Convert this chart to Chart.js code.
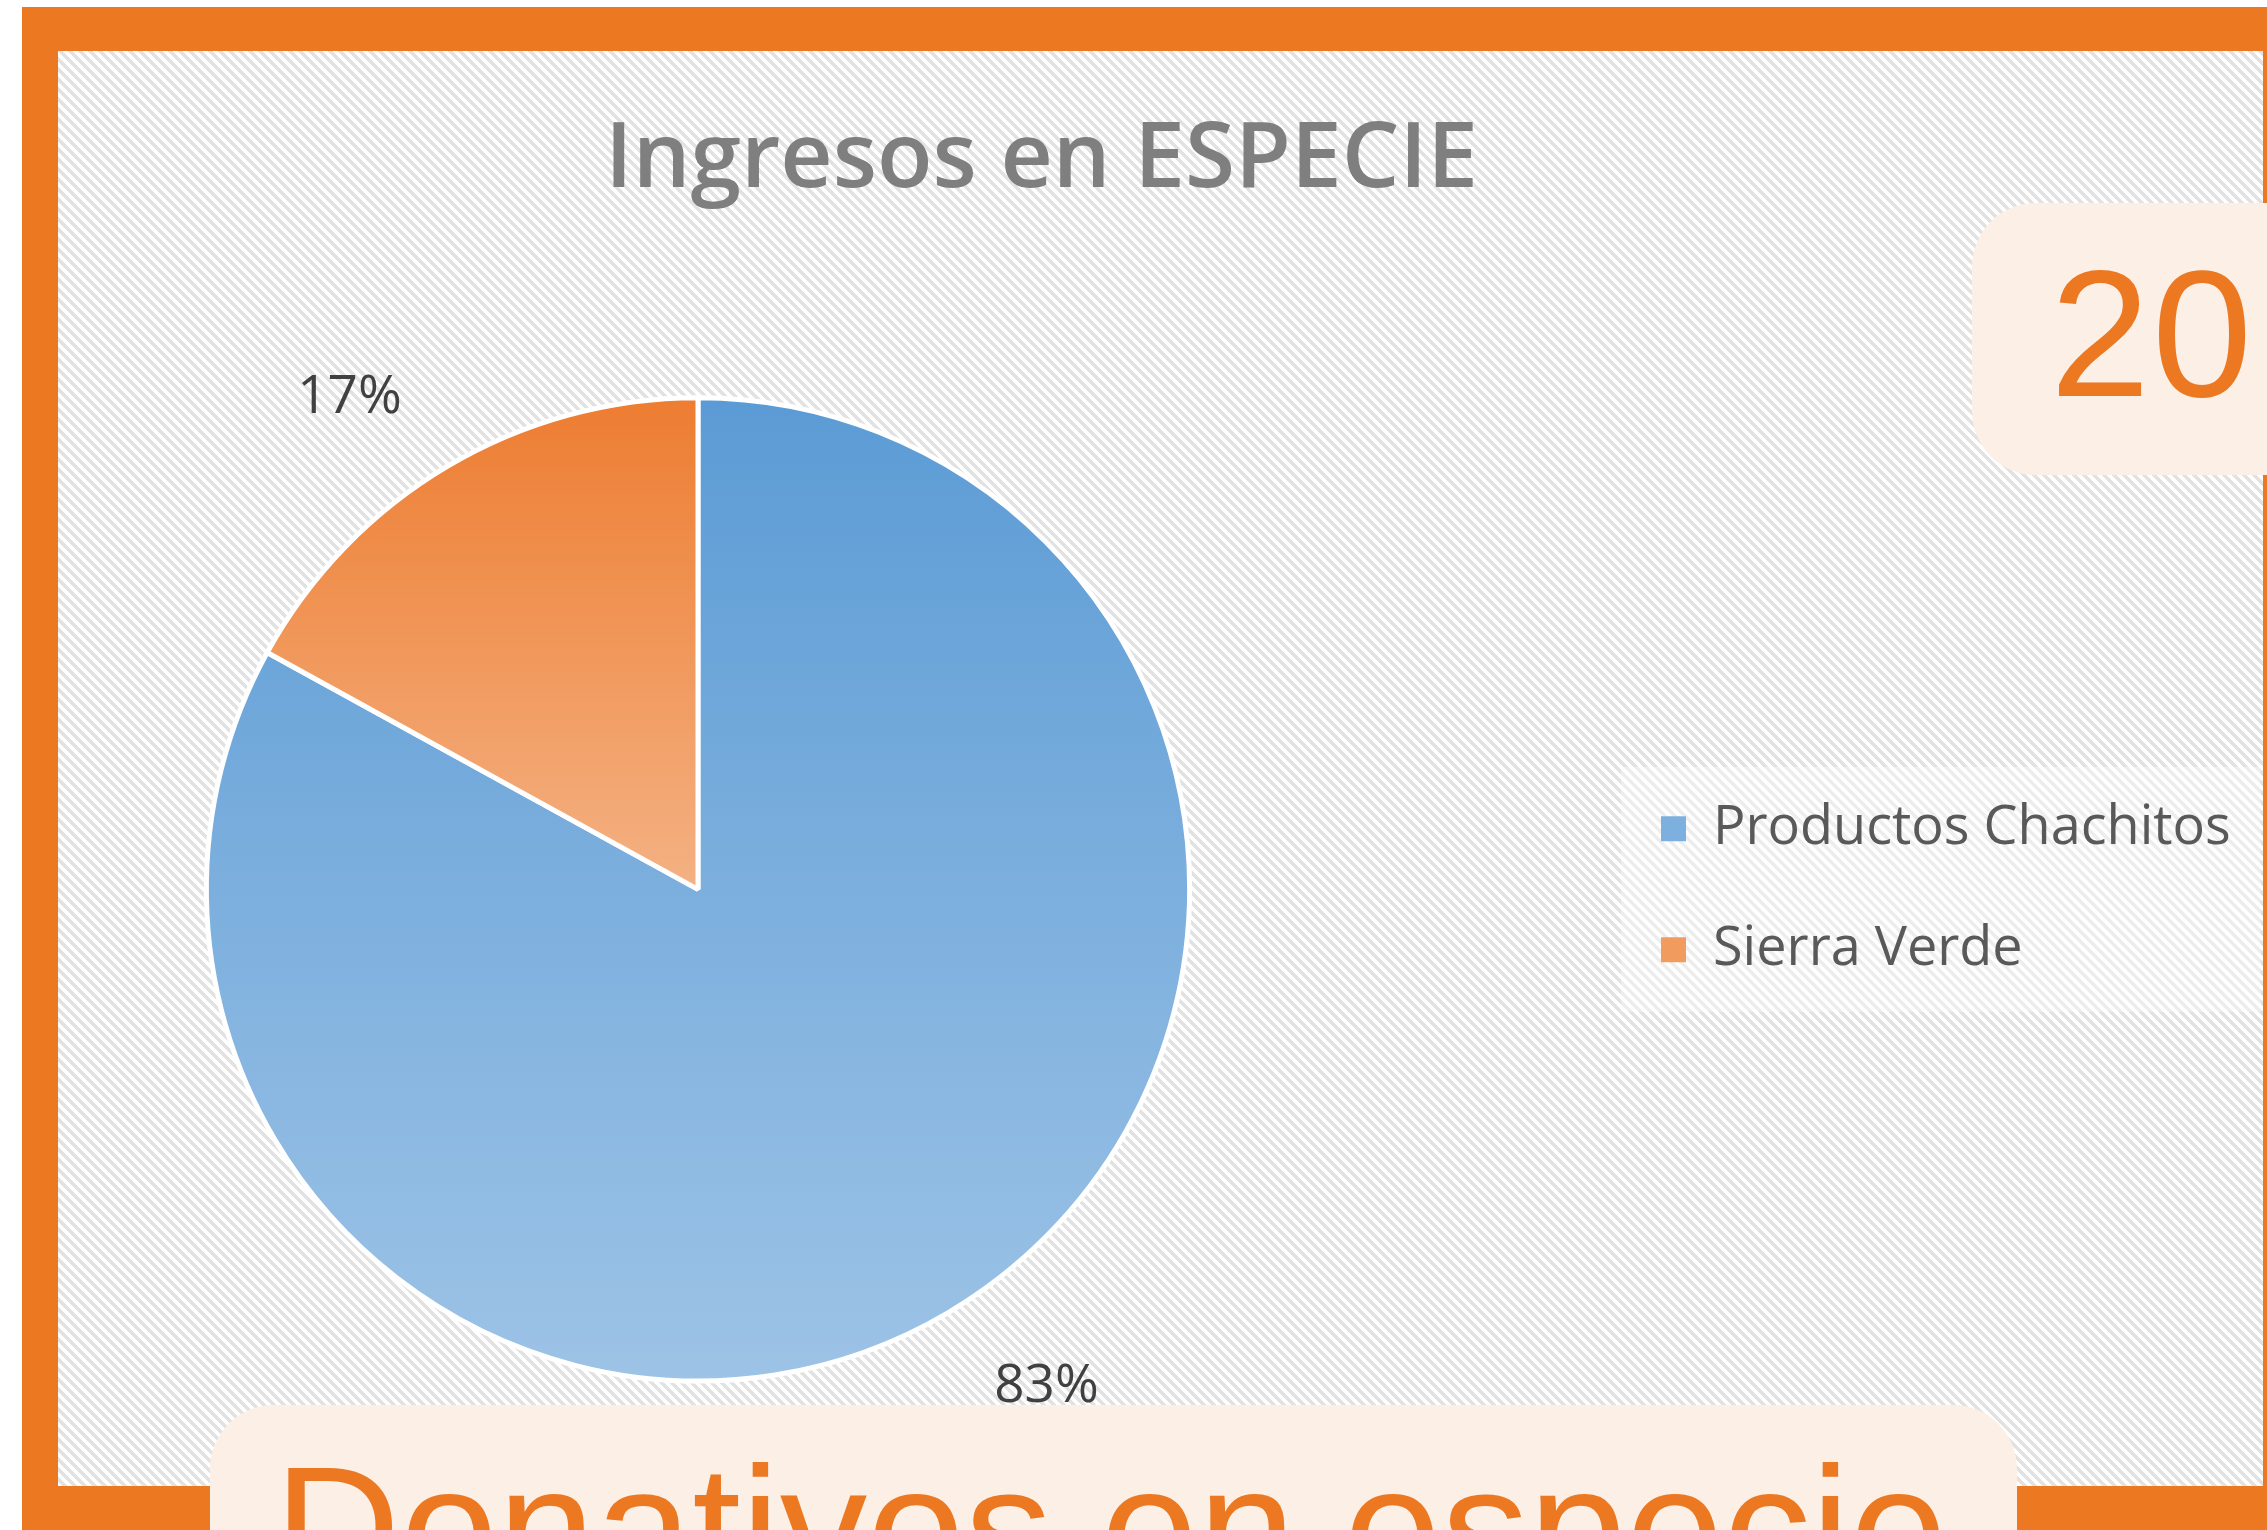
<!DOCTYPE html>
<html lang="es">
<head>
<meta charset="utf-8">
<title>Ingresos en ESPECIE</title>
<script src="https://cdn.jsdelivr.net/npm/chart.js@4.4.1/dist/chart.umd.min.js"></script>
<style>
  html, body { margin:0; padding:0; }
  body { width:2267px; height:1530px; position:relative; overflow:hidden; background:#fff; font-family:"Liberation Sans", Arial, sans-serif; }
  /* marco naranja y fondo rayado */
  #marco { position:absolute; left:22px; top:7px; right:0; bottom:0; background:#ed7822; }
  #fondo { position:absolute; left:58px; top:51px; width:2205px; height:1435px; background-color:#fff; }
  #grafica { position:absolute; left:-198px; top:0; }
  .caja { position:absolute; background:#fbefe6; border-radius:64px; color:#ed7822; white-space:nowrap; overflow:hidden; }
  .caja span { position:absolute; line-height:1; }
  #anio { left:1972px; top:203px; width:420px; height:272px; }
  #anio span { left:78px; top:41px; font-size:180px; letter-spacing:2px; }
  #titulo { left:210px; top:1405px; width:1807px; height:300px; }
  #titulo span { left:64px; top:35px; font-size:175px; }
</style>
</head>
<body>
<div id="marco"></div>
<div id="fondo"></div>
<canvas id="grafica" width="2479" height="1530"></canvas>
<div class="caja" id="anio"><span>2018</span></div>
<div class="caja" id="titulo"><span>Donativos en especie</span></div>

<script>
// Datos del gráfico
const categorias = ['Productos Chachitos', 'Sierra Verde'];
const valores = [83, 17];

// Estilos
const colores = [['#5b9bd5', '#9dc3e6'], ['#ed7d31', '#f4b183']];
const coloresLeyenda = ['#7eb0df', '#f19b5e'];
const BORDE = 5;
const ANCHO_LEYENDA = 687;

// rayado diagonal del fondo (pixeles nítidos)
function rayado(){
  const P = 10, c = document.createElement('canvas');
  c.width = P; c.height = P;
  const g = c.getContext('2d');
  g.fillStyle = '#ffffff'; g.fillRect(0, 0, P, P);
  g.fillStyle = '#e2e2e2';
  for(let y=0; y<P; y++) for(let x=0; x<P; x++){
    if((((x - y) % P) + P) % P < 5) g.fillRect(x, y, 1, 1);
  }
  document.getElementById('fondo').style.backgroundImage = 'url(' + c.toDataURL() + ')';
}

// degradado vertical por rebanada (azul: todo el pastel, naranja: hasta el centro)
function degradado(ctx){
  const i = ctx.dataIndex || 0;
  const chart = ctx.chart, ca = chart.chartArea;
  if(!ca) return colores[i][0];
  const cy = (ca.top + ca.bottom)/2;
  const r = (Math.min(ca.width, ca.height) - BORDE)/2;
  const fin = i === 0 ? cy + r : cy;
  const g = chart.ctx.createLinearGradient(0, cy - r, 0, fin);
  g.addColorStop(0, colores[i][0]);
  g.addColorStop(1, colores[i][1]);
  return g;
}

// etiquetas de porcentaje fuera del pastel
const etiquetas = {
  id: 'etiquetas',
  afterDatasetsDraw(chart){
    const ctx = chart.ctx;
    const meta = chart.getDatasetMeta(0);
    const total = valores.reduce((s,v)=>s+v, 0);
    ctx.save();
    ctx.font = '53px "Open Sans"';
    ctx.fillStyle = '#404040';
    ctx.textAlign = 'center';
    ctx.textBaseline = 'middle';
    meta.data.forEach((arc, i)=>{
      const mid = (arc.startAngle + arc.endAngle)/2;
      const ax = arc.x + Math.cos(mid)*arc.outerRadius;
      const ay = arc.y + Math.sin(mid)*arc.outerRadius;
      const txt = Math.round(valores[i]/total*100) + '%';
      const w = ctx.measureText(txt).width;
      const sx = Math.sign(Math.cos(mid)), sy = Math.sign(Math.sin(mid));
      ctx.fillText(txt, ax + sx*(w/2 + 46), ay + sy*71 + 3);
    });
    ctx.restore();
  }
};

// fondo claro detrás de la leyenda
const fondoLeyenda = {
  id: 'fondoLeyenda',
  beforeDraw(chart){
    const cajas = chart.legend && chart.legend.legendHitBoxes;
    if(!cajas || !cajas.length) return;
    const izq = Math.min(...cajas.map(c=>c.left)) - 40;
    const arr = Math.min(...cajas.map(c=>c.top)) - 35;
    const der = Math.max(...cajas.map(c=>c.left + c.width)) + 30;
    const abj = Math.max(...cajas.map(c=>c.top + c.height)) + 35;
    const ctx = chart.ctx;
    ctx.save();
    ctx.fillStyle = 'rgba(255,255,255,0.4)';
    ctx.fillRect(izq, arr, der - izq, abj - arr);
    ctx.restore();
  }
};

// ancho fijo de la caja de leyenda para que el título quede centrado como en el original
const anchoLeyenda = {
  id: 'anchoLeyenda',
  beforeLayout(chart){
    const leg = chart.legend;
    if(leg && !leg._fitOriginal){
      leg._fitOriginal = leg.fit;
      leg.fit = function(){ this._fitOriginal(); this.width = ANCHO_LEYENDA; };
    }
  }
};

function init(){
  rayado();
  const base = (Chart.overrides.pie || Chart.overrides.doughnut).plugins.legend.labels.generateLabels;
  new Chart(document.getElementById('grafica'), {
    type: 'pie',
    data: {
      labels: categorias,
      datasets: [{
        data: valores,
        backgroundColor: degradado,
        borderColor: '#ffffff',
        borderWidth: BORDE,
        hoverBorderWidth: BORDE,
        hoverOffset: 0
      }]
    },
    options: {
      responsive: false,
      animation: false,
      devicePixelRatio: 1,
      events: [],
      layout: { padding: { left: 0, right: 0, top: 0, bottom: 146.5 } },
      plugins: {
        title: {
          display: true,
          text: 'Ingresos en ESPECIE',
          color: '#7f7f7f',
          font: { family: 'Open Sans', size: 91, weight: '600' },
          padding: { top: 106, bottom: 180 }
        },
        legend: {
          position: 'right',
          align: 'center',
          fullSize: false,
          labels: {
            color: '#595959',
            font: { family: 'Open Sans', size: 54 },
            boxWidth: 25,
            boxHeight: 25,
            padding: 67,
            generateLabels(chart){
              const items = base(chart);
              items.forEach((it, i)=>{ it.fillStyle = coloresLeyenda[i]; it.lineWidth = 0; it.strokeStyle = 'transparent'; });
              return items;
            }
          }
        },
        tooltip: { enabled: false }
      }
    },
    plugins: [anchoLeyenda, fondoLeyenda, etiquetas]
  });
}

document.addEventListener('DOMContentLoaded', init);
</script>
</body>
</html>
